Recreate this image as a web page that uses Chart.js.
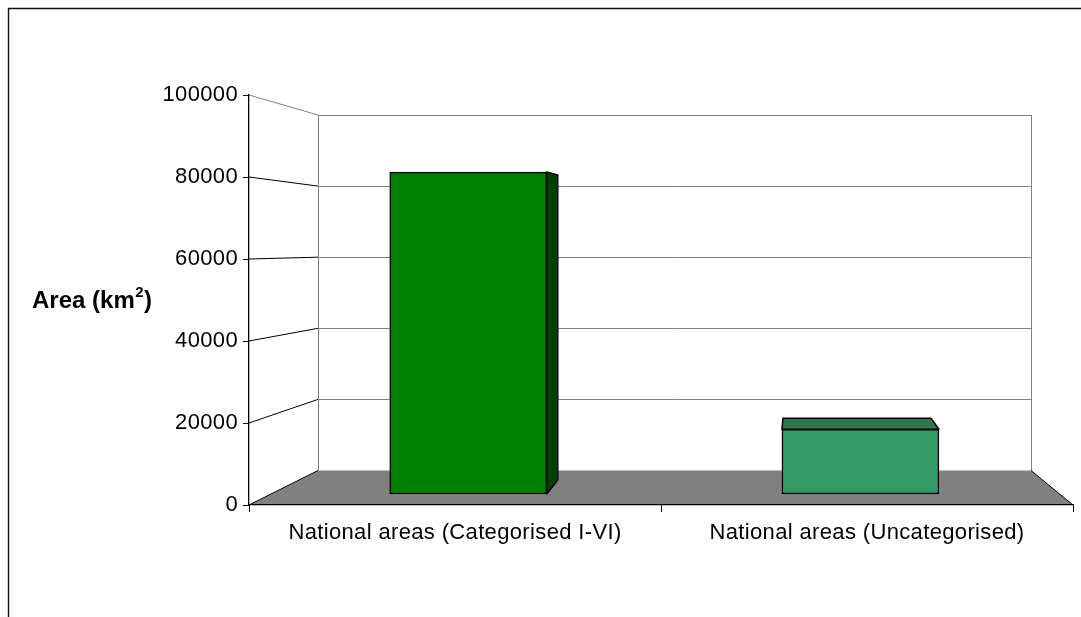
<!DOCTYPE html>
<html>
<head>
<meta charset="utf-8">
<script src="https://cdn.jsdelivr.net/npm/chart.js@4/dist/chart.umd.min.js"></script>
<style>
  html, body { margin: 0; padding: 0; background: #ffffff; }
  #wrap { width: 1081px; height: 617px; position: relative; }
</style>
</head>
<body>
<div id="wrap"><canvas id="chart" width="1081" height="617"></canvas></div>
<script>
// Protected area totals (km²)
const categories = ['National areas (Categorised I-VI)', 'National areas (Uncategorised)'];
const areaKm2 = [82000, 16500];
const yTickValues = [0, 20000, 40000, 60000, 80000, 100000];
const frontColors = ['#008000', '#339966'];
const faceColors = ['#004000', '#2a7752'];
const faceKinds = ['side', 'top'];

const FONT = 'Arial, "Liberation Sans", Helvetica, sans-serif';

// Back wall offsets relative to the front plane of the plot area
const WALL = { left: 69, right: -42, top: 20, bottom: -34.5 };

// Floor, back wall, gridlines, outer frame and the axis title
const wallPlugin = {
  id: 'wall3d',
  beforeDraw(chart) {
    const { ctx, chartArea: a } = chart;
    const ys = chart.scales.y;
    const bl = a.left + WALL.left, br = a.right + WALL.right;
    const bt = a.top + WALL.top, bb = a.bottom + WALL.bottom;
    const k = (bb - bt) / (a.bottom - a.top);
    const backY = v => bb - (a.bottom - ys.getPixelForValue(v)) * k;

    ctx.save();
    ctx.fillStyle = '#ffffff';
    ctx.fillRect(0, 0, chart.width, chart.height);

    // floor
    ctx.fillStyle = '#808080';
    ctx.beginPath();
    ctx.moveTo(a.left, a.bottom);
    ctx.lineTo(bl, bb);
    ctx.lineTo(br, bb);
    ctx.lineTo(a.right, a.bottom);
    ctx.closePath();
    ctx.fill();

    // back wall gridlines
    ctx.lineWidth = 1;
    ctx.strokeStyle = '#808080';
    yTickValues.forEach(v => {
      if (v === 0) return;
      const y = Math.round(backY(v)) + 0.5;
      ctx.beginPath();
      ctx.moveTo(bl, y);
      ctx.lineTo(br, y);
      ctx.stroke();
    });
    // wall edges
    ctx.beginPath();
    ctx.moveTo(Math.round(bl) + 0.5, backY(100000));
    ctx.lineTo(Math.round(bl) + 0.5, bb);
    ctx.moveTo(Math.round(br) + 0.5, backY(100000));
    ctx.lineTo(Math.round(br) + 0.5, bb);
    ctx.stroke();

    // side wall lines from the front axis to the back wall
    yTickValues.forEach(v => {
      ctx.strokeStyle = v === 100000 ? '#808080' : '#000000';
      ctx.beginPath();
      ctx.moveTo(a.left, ys.getPixelForValue(v));
      ctx.lineTo(bl, backY(v));
      ctx.stroke();
    });
    // right floor edge
    ctx.strokeStyle = '#000000';
    ctx.beginPath();
    ctx.moveTo(br, bb);
    ctx.lineTo(a.right, a.bottom);
    ctx.stroke();

    // outer frame
    ctx.strokeStyle = '#111111';
    ctx.lineWidth = 1.4;
    ctx.beginPath();
    ctx.moveTo(8.5, chart.height);
    ctx.lineTo(8.5, 8.5);
    ctx.lineTo(chart.width, 8.5);
    ctx.stroke();

    // axis title with superscript
    ctx.fillStyle = '#000000';
    ctx.textBaseline = 'alphabetic';
    ctx.textAlign = 'left';
    let x = 32;
    const base = 308;
    ctx.font = 'bold 24px ' + FONT;
    ctx.fillText('Area (km', x, base);
    x += ctx.measureText('Area (km').width;
    ctx.font = 'bold 15px ' + FONT;
    ctx.fillText('2', x + 0.5, base - 11);
    x += ctx.measureText('2').width + 1;
    ctx.font = 'bold 24px ' + FONT;
    ctx.fillText(')', x, base);
    ctx.restore();

    // the axis lettering is slightly spaced out
    ctx.letterSpacing = '0.35px';
  },
  afterDatasetsDraw(chart) {
    const { ctx } = chart;
    const meta = chart.getDatasetMeta(0);
    ctx.save();
    ctx.lineWidth = 1.5;
    ctx.strokeStyle = '#000000';
    ctx.lineJoin = 'round';
    meta.data.forEach((bar, i) => {
      const p = bar.getProps(['x', 'y', 'base', 'width'], true);
      const l = p.x - p.width / 2, r = p.x + p.width / 2;
      ctx.fillStyle = faceColors[i];
      ctx.beginPath();
      if (faceKinds[i] === 'side') {
        ctx.moveTo(r, p.y);
        ctx.lineTo(r + 11, p.y + 3);
        ctx.lineTo(r + 11, p.base - 14);
        ctx.lineTo(r, p.base);
      } else {
        ctx.moveTo(l, p.y);
        ctx.lineTo(l + 1, p.y - 11);
        ctx.lineTo(r - 8, p.y - 11);
        ctx.lineTo(r, p.y);
      }
      ctx.closePath();
      ctx.fill();
      ctx.stroke();
    });
    ctx.restore();
  }
};

new Chart(document.getElementById('chart'), {
  type: 'bar',
  data: {
    labels: categories,
    datasets: [{
      data: areaKm2,
      xAxisID: 'xb',
      yAxisID: 'yb',
      backgroundColor: frontColors,
      borderColor: '#000000',
      borderWidth: 1.5,
      borderSkipped: false,
      barThickness: 157
    }]
  },
  options: {
    responsive: false,
    animation: false,
    devicePixelRatio: 1,
    layout: { padding: { left: 0, right: 8, top: 95, bottom: 0 } },
    plugins: { legend: { display: false }, tooltip: { enabled: false } },
    scales: {
      x: {
        type: 'category',
        offset: true,
        afterFit(s) { s.height = 112; },
        grid: { offset: true, drawOnChartArea: false, color: '#000000', tickLength: 7, lineWidth: 1 },
        border: { display: true, color: '#000000', width: 1.3 },
        ticks: { color: '#000000', font: { family: FONT, size: 22 }, padding: 8, maxRotation: 0 }
      },
      y: {
        type: 'linear',
        min: 0,
        max: 100000,
        afterFit(s) { s.width = 249; },
        afterBuildTicks(s) { s.ticks = yTickValues.map(v => ({ value: v })); },
        grid: { drawOnChartArea: false, color: '#000000', tickLength: 6, lineWidth: 1 },
        border: { display: true, color: '#000000', width: 1.3 },
        ticks: { color: '#000000', font: { family: FONT, size: 22 }, padding: 5, callback: v => String(v) }
      },
      // depth plane in which the bars stand
      xb: {
        type: 'linear',
        display: false,
        offset: false,
        labels: categories.map((_, i) => i),
        min: -0.559,
        max: 1.542
      },
      yb: {
        type: 'linear',
        display: false,
        position: 'left',
        min: -2802,
        max: 101630
      }
    }
  },
  plugins: [wallPlugin]
});
</script>
</body>
</html>
